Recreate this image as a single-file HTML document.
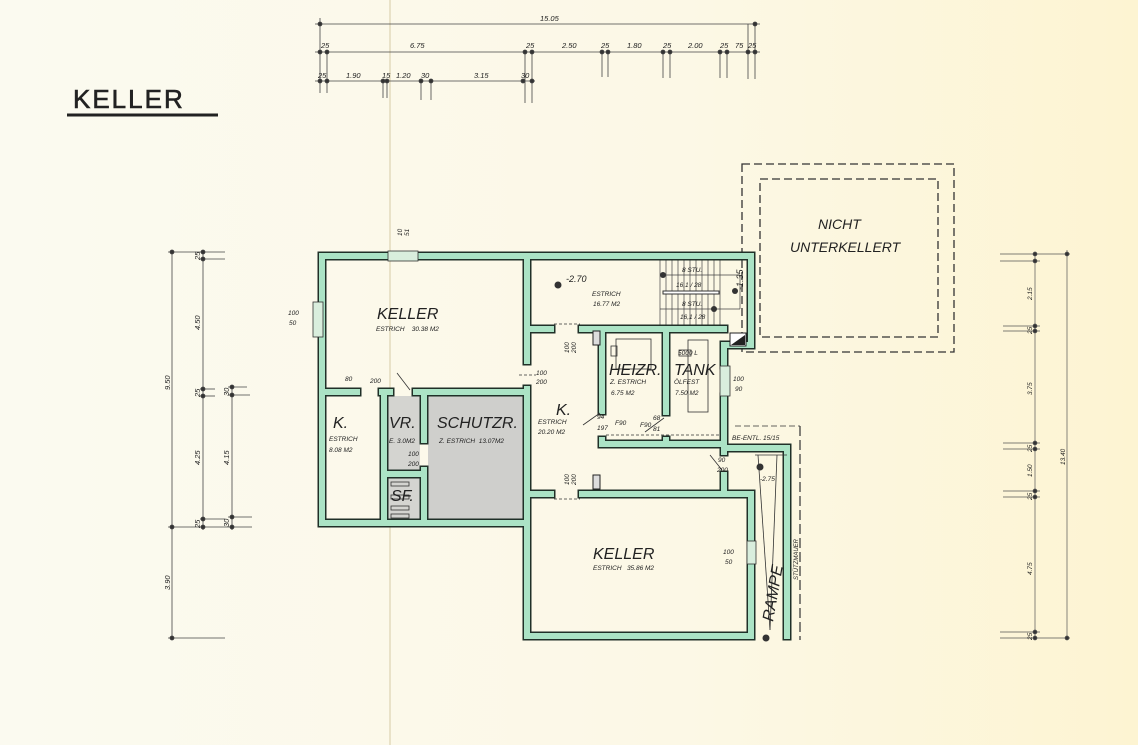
<!DOCTYPE html>
<html><head><meta charset="utf-8"><style>
html,body{margin:0;padding:0;background:#fbf8e9;}
svg{display:block}
text{font-family:"Liberation Sans",sans-serif;fill:#222;font-style:italic}
</style></head><body>
<svg width="1138" height="745" viewBox="0 0 1138 745">
<defs>
<linearGradient id="bg" x1="0" x2="1" y1="0" y2="0">
<stop offset="0" stop-color="#fbfaf0"/><stop offset="0.6" stop-color="#fcf8e6"/><stop offset="1" stop-color="#fdf4d2"/>
</linearGradient>
</defs>
<rect width="1138" height="745" fill="url(#bg)"/>
<line x1="390" y1="0" x2="390" y2="745" stroke="#e9e2c8" stroke-width="2"/>

<!-- title -->
<text x="73" y="108" font-size="26" style="font-style:normal" fill="#222" stroke="#222" stroke-width="0.6" letter-spacing="2">KELLER</text>
<line x1="67" y1="115" x2="218" y2="115" stroke="#222" stroke-width="3"/>

<!-- top dimensions -->
<g stroke="#444" stroke-width="0.8" fill="#333">
<line x1="315" y1="24" x2="760" y2="24"/>
<line x1="315" y1="52" x2="760" y2="52"/>
<line x1="315" y1="81" x2="535" y2="81"/>
<line x1="320" y1="18" x2="320" y2="93"/><line x1="327" y1="50" x2="327" y2="93"/>
<line x1="525" y1="50" x2="525" y2="103"/><line x1="532" y1="50" x2="532" y2="103"/>
<line x1="602" y1="50" x2="602" y2="77"/><line x1="608" y1="50" x2="608" y2="77"/>
<line x1="663" y1="50" x2="663" y2="78"/><line x1="670" y1="50" x2="670" y2="78"/>
<line x1="720" y1="50" x2="720" y2="78"/><line x1="727" y1="50" x2="727" y2="78"/>
<line x1="748" y1="24" x2="748" y2="79"/><line x1="755" y1="24" x2="755" y2="79"/>
<line x1="383" y1="79" x2="383" y2="98"/><line x1="387" y1="79" x2="387" y2="98"/>
<line x1="421" y1="79" x2="421" y2="100"/><line x1="431" y1="79" x2="431" y2="100"/>
<circle cx="320" cy="24" r="2"/><circle cx="755" cy="24" r="2"/>
<circle cx="320" cy="52" r="2"/><circle cx="327" cy="52" r="2"/><circle cx="525" cy="52" r="2"/><circle cx="532" cy="52" r="2"/>
<circle cx="602" cy="52" r="2"/><circle cx="608" cy="52" r="2"/><circle cx="663" cy="52" r="2"/><circle cx="670" cy="52" r="2"/>
<circle cx="720" cy="52" r="2"/><circle cx="727" cy="52" r="2"/><circle cx="748" cy="52" r="2"/><circle cx="755" cy="52" r="2"/>
<circle cx="320" cy="81" r="2"/><circle cx="327" cy="81" r="2"/><circle cx="383" cy="81" r="2"/><circle cx="387" cy="81" r="2"/>
<circle cx="421" cy="81" r="2"/><circle cx="431" cy="81" r="2"/><circle cx="523" cy="81" r="2"/><circle cx="532" cy="81" r="2"/>
</g>
<g font-size="7.5">
<text x="540" y="21">15.05</text>
<text x="321" y="48">25</text><text x="410" y="48">6.75</text><text x="526" y="48">25</text><text x="562" y="48">2.50</text>
<text x="601" y="48">25</text><text x="627" y="48">1.80</text><text x="663" y="48">25</text><text x="688" y="48">2.00</text>
<text x="720" y="48">25</text><text x="735" y="48">75</text><text x="748" y="48">25</text>
<text x="318" y="78">25</text><text x="346" y="78">1.90</text><text x="382" y="78">15</text><text x="396" y="78">1.20</text>
<text x="421" y="78">30</text><text x="474" y="78">3.15</text><text x="521" y="78">30</text>
</g>

<!-- left dimensions -->
<g stroke="#444" stroke-width="0.8" fill="#333">
<line x1="172" y1="252" x2="172" y2="640"/>
<line x1="203" y1="250" x2="203" y2="530"/>
<line x1="232" y1="385" x2="232" y2="530"/>
<line x1="168" y1="252" x2="225" y2="252"/><line x1="200" y1="259" x2="225" y2="259"/>
<line x1="200" y1="389" x2="215" y2="389"/><line x1="200" y1="396" x2="215" y2="396"/>
<line x1="228" y1="387" x2="247" y2="387"/><line x1="228" y1="395" x2="250" y2="395"/>
<line x1="200" y1="519" x2="225" y2="519"/><line x1="168" y1="527" x2="252" y2="527"/>
<line x1="228" y1="517" x2="252" y2="517"/>
<line x1="168" y1="638" x2="225" y2="638"/>
<circle cx="172" cy="252" r="2"/><circle cx="172" cy="527" r="2"/><circle cx="172" cy="638" r="2"/>
<circle cx="203" cy="252" r="2"/><circle cx="203" cy="259" r="2"/><circle cx="203" cy="389" r="2"/><circle cx="203" cy="396" r="2"/>
<circle cx="203" cy="519" r="2"/><circle cx="203" cy="527" r="2"/>
<circle cx="232" cy="387" r="2"/><circle cx="232" cy="395" r="2"/><circle cx="232" cy="517" r="2"/><circle cx="232" cy="527" r="2"/>
</g>
<g font-size="7.5">
<text transform="translate(170,390) rotate(-90)">9.50</text>
<text transform="translate(170,590) rotate(-90)">3.90</text>
<text transform="translate(200,330) rotate(-90)">4.50</text>
<text transform="translate(200,465) rotate(-90)">4.25</text>
<text transform="translate(229,465) rotate(-90)">4.15</text>
<text transform="translate(200,260) rotate(-90)">25</text>
<text transform="translate(200,397) rotate(-90)">25</text>
<text transform="translate(229,396) rotate(-90)">30</text>
<text transform="translate(200,528) rotate(-90)">25</text>
<text transform="translate(229,527) rotate(-90)">30</text>
</g>

<!-- right dimensions -->
<g stroke="#555" stroke-width="0.7" fill="#333">
<line x1="1035" y1="254" x2="1035" y2="638"/>
<line x1="1067" y1="250" x2="1067" y2="640"/>
<line x1="1000" y1="254" x2="1070" y2="254"/><line x1="1000" y1="261" x2="1040" y2="261"/>
<line x1="1003" y1="326" x2="1040" y2="326"/><line x1="1003" y1="331" x2="1040" y2="331"/>
<line x1="1003" y1="443" x2="1040" y2="443"/><line x1="1003" y1="449" x2="1040" y2="449"/>
<line x1="1003" y1="491" x2="1040" y2="491"/><line x1="1003" y1="497" x2="1040" y2="497"/>
<line x1="1000" y1="632" x2="1040" y2="632"/><line x1="1000" y1="638" x2="1070" y2="638"/>
<circle cx="1035" cy="254" r="2"/><circle cx="1035" cy="261" r="2"/><circle cx="1035" cy="326" r="2"/><circle cx="1035" cy="331" r="2"/>
<circle cx="1035" cy="443" r="2"/><circle cx="1035" cy="449" r="2"/><circle cx="1035" cy="491" r="2"/><circle cx="1035" cy="497" r="2"/>
<circle cx="1035" cy="632" r="2"/><circle cx="1035" cy="638" r="2"/><circle cx="1067" cy="254" r="2"/><circle cx="1067" cy="638" r="2"/>
</g>
<g font-size="6.5">
<text transform="translate(1032,300) rotate(-90)">2.15</text>
<text transform="translate(1032,395) rotate(-90)">3.75</text>
<text transform="translate(1032,477) rotate(-90)">1.50</text>
<text transform="translate(1032,575) rotate(-90)">4.75</text>
<text transform="translate(1065,465) rotate(-90)">13.40</text>
<text transform="translate(1032,334) rotate(-90)">25</text>
<text transform="translate(1032,452) rotate(-90)">25</text>
<text transform="translate(1032,500) rotate(-90)">25</text>
<text transform="translate(1032,640) rotate(-90)">25</text>
</g>

<!-- NICHT UNTERKELLERT -->
<g fill="none" stroke="#333" stroke-width="1.3" stroke-dasharray="8,4">
<rect x="742" y="164" width="212" height="188"/>
<rect x="760" y="179" width="178" height="158"/>
</g>
<text x="818" y="229" font-size="14">NICHT</text>
<text x="790" y="252" font-size="14">UNTERKELLERT</text>

<!-- gray rooms -->
<rect x="428" y="396" width="95" height="123" fill="#cfcfcc"/>
<rect x="386" y="396" width="34" height="76" fill="#d4d4d0"/>
<rect x="386" y="477" width="34" height="42" fill="#d4d4d0"/>

<!-- stairs -->
<g stroke="#444" stroke-width="0.7">
<line x1="660" y1="259" x2="660" y2="326"/><line x1="666" y1="259" x2="666" y2="326"/><line x1="672" y1="259" x2="672" y2="326"/>
<line x1="678" y1="259" x2="678" y2="326"/><line x1="684" y1="259" x2="684" y2="326"/><line x1="690" y1="259" x2="690" y2="326"/>
<line x1="696" y1="259" x2="696" y2="326"/><line x1="702" y1="259" x2="702" y2="326"/><line x1="708" y1="259" x2="708" y2="326"/>
<line x1="714" y1="259" x2="714" y2="326"/><line x1="720" y1="259" x2="720" y2="326"/>
<line x1="660" y1="275" x2="740" y2="275"/><line x1="660" y1="309" x2="740" y2="309"/>
<line x1="740" y1="275" x2="740" y2="309"/>
</g>
<rect x="663" y="291" width="56" height="3" fill="#fff" stroke="#333" stroke-width="1"/>
<g fill="#333"><circle cx="663" cy="275" r="3"/><circle cx="714" cy="309" r="3"/><circle cx="735" cy="291" r="3"/></g>
<g font-size="6.5"><text x="682" y="272">8 STU.</text><text x="676" y="287">16,1 / 28</text><text x="682" y="306">8 STU.</text><text x="680" y="319">16,1 / 28</text></g>
<text transform="translate(743,290) rotate(-90)" font-size="9">-1.35</text>

<!-- walls -->
<g stroke-linecap="square" fill="none">
<path stroke="#203028" stroke-width="9" d="M322 256 H751 V345 H724 V365 M724 397 V448 H787 V636 M527 256 V361 M527 389 V636 H751 V494 M322 256 V523 H527
M527 494 H551 M582 494 H751 M724 494 V475 M724 448 V452 M602 444 H724 M602 329 V411 M602 440 V444 M666 329 V412 M666 440 V444
M527 329 H551 M582 329 H724 M322 392 H357 M382 392 H390 M416 392 H527 M384 392 V523 M424 392 V440 M424 470 V523 M384 474 H424"/>
<path stroke="#abe3c5" stroke-width="6" d="M322 256 H751 V345 H724 V365 M724 397 V448 H787 V636 M527 256 V361 M527 389 V636 H751 V494 M322 256 V523 H527
M527 494 H551 M582 494 H751 M724 494 V475 M724 448 V452 M602 444 H724 M602 329 V411 M602 440 V444 M666 329 V412 M666 440 V444
M527 329 H551 M582 329 H724 M322 392 H357 M382 392 H390 M416 392 H527 M384 392 V523 M424 392 V440 M424 470 V523 M384 474 H424"/>
</g>
<!-- wall openings/windows -->
<rect x="388" y="251" width="30" height="10" fill="#d9eedd" stroke="#333" stroke-width="0.8"/>
<rect x="313" y="302" width="10" height="35" fill="#d9eedd" stroke="#333" stroke-width="0.8"/>
<rect x="720" y="366" width="10" height="30" fill="#d9eedd" stroke="#333" stroke-width="0.8"/>
<rect x="747" y="541" width="9" height="23" fill="#d9eedd" stroke="#333" stroke-width="0.8"/>
<path d="M730 333 H746 V346 H730 Z" fill="#fff" stroke="#222"/><path d="M731 345 L745 335 V345 Z" fill="#222"/>
<rect x="593" y="331" width="7" height="14" fill="#ddd" stroke="#222"/>
<rect x="593" y="475" width="7" height="14" fill="#ddd" stroke="#222"/>

<!-- equipment -->
<g fill="none" stroke="#333" stroke-width="0.8">
<rect x="616" y="339" width="35" height="30"/><rect x="611" y="346" width="6" height="10"/>
<rect x="688" y="340" width="20" height="72"/><rect x="679" y="350" width="12" height="6"/>
<rect x="391" y="482" width="18" height="4"/><rect x="391" y="495" width="18" height="4"/><rect x="391" y="506" width="18" height="4"/><rect x="391" y="514" width="18" height="4"/>
<line x1="397" y1="373" x2="410" y2="390"/><line x1="710" y1="455" x2="722" y2="470"/>
<line x1="583" y1="425" x2="600" y2="413"/><line x1="645" y1="432" x2="664" y2="418"/>
<line x1="606" y1="435" x2="720" y2="435" stroke-dasharray="3,2"/>
<line x1="735" y1="426" x2="800" y2="426" stroke-dasharray="6,3"/>
<line x1="800" y1="426" x2="800" y2="640" stroke-dasharray="10,4" stroke-width="1.2"/>
<line x1="755" y1="455" x2="787" y2="455"/>
<line x1="758" y1="455" x2="770" y2="630"/><line x1="777" y1="455" x2="770" y2="630"/>
<line x1="519" y1="375" x2="536" y2="375" stroke-dasharray="3,2"/>
<line x1="554" y1="324" x2="580" y2="324" stroke-dasharray="3,2"/>
<line x1="554" y1="499" x2="580" y2="499" stroke-dasharray="3,2"/>
</g>
<g fill="#333"><circle cx="558" cy="285" r="3.5"/><circle cx="760" cy="467" r="3.5"/><circle cx="766" cy="638" r="3.5"/></g>

<!-- room labels -->
<g font-size="16">
<text x="377" y="319">KELLER</text>
<text x="593" y="559">KELLER</text>
<text x="333" y="428">K.</text>
<text x="389" y="428">VR.</text>
<text x="437" y="428">SCHUTZR.</text>
<text x="556" y="415">K.</text>
<text x="609" y="375">HEIZR.</text>
<text x="674" y="375">TANK</text>
<text x="391" y="501">SF.</text>
<text transform="translate(773,622) rotate(-80)">RAMPE</text>
</g>
<g font-size="6.5">
<text x="376" y="331">ESTRICH&#160;&#160;&#160; 30.38 M2</text>
<text x="593" y="570">ESTRICH&#160;&#160; 35.86 M2</text>
<text x="592" y="296">ESTRICH</text><text x="593" y="306">16.77 M2</text>
<text x="329" y="441">ESTRICH</text><text x="329" y="452">8.08 M2</text>
<text x="389" y="443">E. 3.0M2</text>
<text x="439" y="443">Z. ESTRICH&#160; 13.07M2</text>
<text x="538" y="424">ESTRICH</text><text x="538" y="434">20.20 M2</text>
<text x="610" y="384">Z. ESTRICH</text><text x="611" y="395">6.75 M2</text>
<text x="674" y="384">ÖLFEST</text><text x="675" y="395">7.50 M2</text>
<text x="678" y="355">5000 L</text>
<text x="732" y="440">BE-ENTL. 15/15</text>
<text x="536" y="375">100</text><text x="536" y="384">200</text>
<text x="408" y="456">100</text><text x="408" y="466">200</text>
<text x="733" y="381">100</text><text x="735" y="391">90</text>
<text x="723" y="554">100</text><text x="725" y="564">50</text>
<text x="288" y="315">100</text><text x="289" y="325">50</text>
<text x="718" y="462">90</text><text x="717" y="472">200</text>
<text x="615" y="425">F90</text><text x="640" y="427">F90</text>
<text x="597" y="419">94</text><text x="597" y="430">197</text>
<text x="653" y="420">68</text><text x="653" y="431">81</text>
<text x="345" y="381">80</text><text x="370" y="383">200</text>
<text x="760" y="481">-2.75</text>
<text transform="translate(569,353) rotate(-90)">100</text>
<text transform="translate(576,353) rotate(-90)">200</text>
<text transform="translate(569,485) rotate(-90)">100</text>
<text transform="translate(576,485) rotate(-90)">200</text>
<text transform="translate(798,580) rotate(-90)" font-size="6">STÜTZMAUER</text>
<text transform="translate(402,236) rotate(-90)">10</text>
<text transform="translate(409,236) rotate(-90)">51</text>
</g>
<text x="566" y="282" font-size="9">-2.70</text>
</svg>
</body></html>
